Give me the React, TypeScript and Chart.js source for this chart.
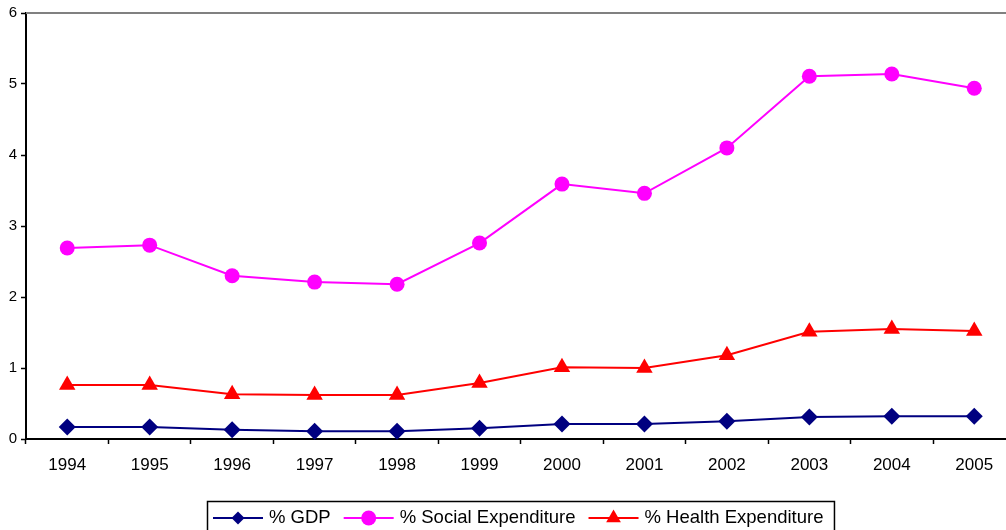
import React, { useEffect, useRef } from "react";
import { Chart, registerables } from "chart.js";

Chart.register(...registerables);

// Years on the category axis
const years = ["1994", "1995", "1996", "1997", "1998", "1999", "2000", "2001", "2002", "2003", "2004", "2005"];

// Series values (percent)
const gdpShare = [0.17, 0.17, 0.13, 0.11, 0.11, 0.15, 0.21, 0.21, 0.25, 0.31, 0.32, 0.32];
const socialShare = [2.69, 2.73, 2.3, 2.21, 2.18, 2.76, 3.59, 3.46, 4.1, 5.11, 5.14, 4.94];
const healthShare = [0.76, 0.76, 0.63, 0.62, 0.62, 0.79, 1.01, 1.0, 1.18, 1.51, 1.55, 1.52];

const seriesLabels = ["% GDP", "% Social Expenditure", "% Health Expenditure"];
const seriesColors = ["#000080", "#FF00FF", "#FF0000"];
const seriesShapes = ["rectRot", "circle", "triangle"];
const seriesRadius = [8.5, 7.5, 9.5];
const legendRadius = [6.5, 7.5, 8.5];

const yMin = 0;
const yMax = 6;

const FONT = "'Liberation Sans', Arial, sans-serif";

function drawMarker(ctx: CanvasRenderingContext2D, shape: string, x: number, y: number, r: number) {
  ctx.beginPath();
  if (shape === "rectRot") {
    ctx.moveTo(x - r, y);
    ctx.lineTo(x, y - r);
    ctx.lineTo(x + r, y);
    ctx.lineTo(x, y + r);
    ctx.closePath();
  } else if (shape === "circle") {
    ctx.arc(x, y, r, 0, Math.PI * 2);
  } else {
    const h = r * 1.5;
    const w = r * Math.sqrt(3);
    ctx.moveTo(x, y - h / 2 - r * 0.25);
    ctx.lineTo(x + w / 2, y + h / 2 - r * 0.25);
    ctx.lineTo(x - w / 2, y + h / 2 - r * 0.25);
    ctx.closePath();
  }
  ctx.fill();
}

// Gray frame line along the top of the plot area
const frameTop = {
  id: "frameTop",
  beforeDatasetsDraw(chart: any) {
    const { ctx, chartArea } = chart;
    ctx.save();
    ctx.strokeStyle = "#808080";
    ctx.lineWidth = 2;
    ctx.beginPath();
    ctx.moveTo(chartArea.left, chartArea.top);
    ctx.lineTo(chartArea.right + 1, chartArea.top);
    ctx.stroke();
    ctx.restore();
  },
};

// Boxed legend with line-and-marker keys below the axis
const boxedLegend = {
  id: "boxedLegend",
  afterDraw(chart: any) {
    const ctx: CanvasRenderingContext2D = chart.ctx;
    ctx.save();
    ctx.font = `18.5px ${FONT}`;
    ctx.textBaseline = "middle";
    ctx.textAlign = "left";
    const cy = 518;
    let x = 213;
    chart.data.datasets.forEach((ds: any, i: number) => {
      ctx.strokeStyle = ds.borderColor;
      ctx.fillStyle = ds.borderColor;
      ctx.lineWidth = 2;
      ctx.beginPath();
      ctx.moveTo(x, cy);
      ctx.lineTo(x + 50, cy);
      ctx.stroke();
      drawMarker(ctx, seriesShapes[i], x + 25, cy, legendRadius[i]);
      x += 56;
      ctx.fillStyle = "#000";
      ctx.fillText(ds.label, x, cy);
      x += ctx.measureText(ds.label).width + 13;
    });
    const right = x - 13 + 11;
    ctx.strokeStyle = "#000";
    ctx.lineWidth = 1.5;
    ctx.strokeRect(207.5, 501.5, right - 207.5, 60);
    ctx.restore();
  },
};

export default function App() {
  const canvasRef = useRef<HTMLCanvasElement | null>(null);

  useEffect(() => {
    const canvas = canvasRef.current;
    if (!canvas) return;
    const values = [gdpShare, socialShare, healthShare];
    const chart = new Chart(canvas, {
      type: "line",
      data: {
        labels: years,
        datasets: values.map((data, i) => ({
          label: seriesLabels[i],
          data,
          borderColor: seriesColors[i],
          backgroundColor: seriesColors[i],
          pointBackgroundColor: seriesColors[i],
          pointBorderColor: seriesColors[i],
          pointStyle: seriesShapes[i] as any,
          pointRadius: seriesRadius[i],
          pointBorderWidth: 0,
          borderWidth: 2,
          tension: 0,
          fill: false,
          clip: false as any,
        })),
      },
      options: {
        responsive: false,
        animation: false,
        devicePixelRatio: 1,
        layout: { padding: { top: 12.5, right: 14.5, left: 0, bottom: 0 } },
        plugins: {
          legend: { display: false },
          tooltip: { enabled: false },
        },
        scales: {
          x: {
            type: "category",
            offset: true,
            grid: {
              offset: true,
              drawOnChartArea: false,
              drawTicks: true,
              tickLength: 5,
              tickWidth: 1.5,
              tickColor: "#000",
            },
            border: { display: true, color: "#000", width: 2 },
            ticks: {
              color: "#000",
              padding: 11,
              maxRotation: 0,
              autoSkip: false,
              font: { family: FONT, size: 17 },
            },
            afterFit(scale: any) {
              scale.height = 121;
            },
          },
          y: {
            min: yMin,
            max: yMax,
            grid: {
              drawOnChartArea: false,
              drawTicks: true,
              tickLength: 5,
              tickWidth: 1.5,
              tickColor: "#000",
            },
            border: { display: true, color: "#000", width: 2 },
            ticks: {
              stepSize: 1,
              color: "#000",
              padding: 4,
              font: { family: FONT, size: 15 },
            },
            afterFit(scale: any) {
              scale.width = 26;
            },
          },
        },
      },
      plugins: [frameTop, boxedLegend],
    });
    return () => chart.destroy();
  }, []);

  return (
    <div style={{ position: "fixed", left: 0, top: 0, width: 1030, height: 560, background: "#fff" }}>
      <canvas ref={canvasRef} width={1030} height={560} style={{ display: "block" }} />
    </div>
  );
}
